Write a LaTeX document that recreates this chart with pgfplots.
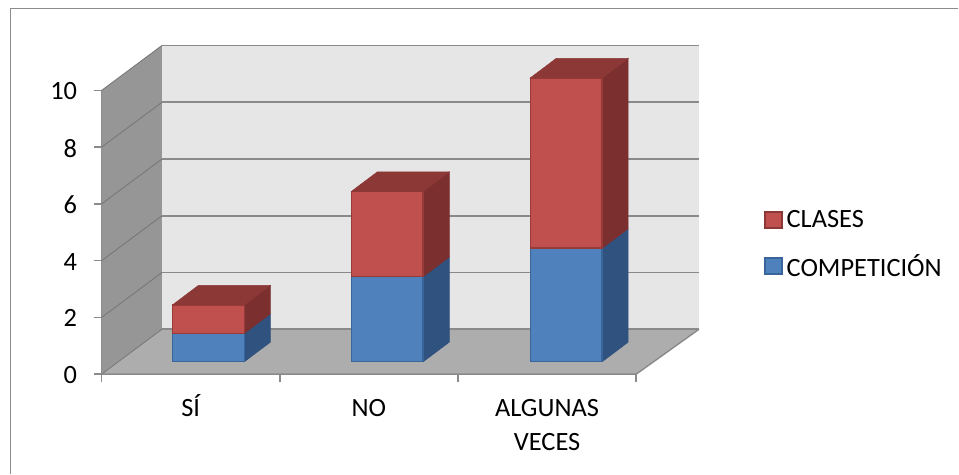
\documentclass[border=0pt]{standalone}
\usepackage{pgfplots}
\pgfplotsset{compat=1.18}
\usepackage{fontspec}
\setmainfont{Carlito}
\definecolor{wallback}{HTML}{E6E6E6}
\definecolor{wallside}{HTML}{969696}
\definecolor{floorc}{HTML}{ADADAD}
\definecolor{gridc}{HTML}{8A8A8A}
\definecolor{framec}{HTML}{8C8C8C}
\definecolor{bluefront}{HTML}{4F81BD}
\definecolor{blueedge}{HTML}{3A659B}
\definecolor{blueside}{HTML}{30527F}
\definecolor{redfront}{HTML}{C0504D}
\definecolor{rededge}{HTML}{983A38}
\definecolor{redside}{HTML}{7B2F2E}
\definecolor{redtop}{HTML}{8C3836}

% Depth of the chart box and of a column, in axis units
\def\wallx{0.339}
\def\wally{1.585}
\def\depthx{0.146}
\def\depthy{0.69}
\def\barbase{0.44}
\def\barw{0.403}

% Gridline running along the side wall and across the back wall
\newcommand\gridline[1]{%
  \pgfmathsetmacro\gy{#1+\wally}%
  \addplot[draw=gridc!85!black, line width=0.8bp, forget plot] coordinates {(0,#1) (\wallx,\gy)};
  \addplot[draw=gridc, line width=1.8bp, forget plot] coordinates {(\wallx,\gy) (3.353,\gy)};
}

% One stacked segment: left edge, lower value, upper value, colours
\newcommand\barseg[6]{%
  \pgfmathsetmacro\xa{#1}%
  \pgfmathsetmacro\xb{#1+\barw}%
  \pgfmathsetmacro\xc{#1+\depthx}%
  \pgfmathsetmacro\xd{#1+\barw+\depthx}%
  \pgfmathsetmacro\ya{#2+\barbase}%
  \pgfmathsetmacro\yb{#3+\barbase}%
  \pgfmathsetmacro\yc{#2+\barbase+\depthy}%
  \pgfmathsetmacro\yd{#3+\barbase+\depthy}%
  \addplot[fill=#6, draw=#6, line width=0.6bp, forget plot] coordinates {(\xb,\ya) (\xd,\yc) (\xd,\yd) (\xb,\yb)} --cycle;
  \addplot[fill=#4, draw=#5, line width=1.6bp, forget plot] coordinates {(\xa,\ya) (\xb,\ya) (\xb,\yb) (\xa,\yb)} --cycle;
}
% Lid of a column
\newcommand\barlid[3]{%
  \pgfmathsetmacro\xa{#1}%
  \pgfmathsetmacro\xb{#1+\barw}%
  \pgfmathsetmacro\xc{#1+\depthx}%
  \pgfmathsetmacro\xd{#1+\barw+\depthx}%
  \pgfmathsetmacro\yb{#2+\barbase}%
  \pgfmathsetmacro\yd{#2+\barbase+\depthy}%
  \addplot[fill=#3, draw=#3, line width=0.6bp, forget plot] coordinates {(\xa,\yb) (\xb,\yb) (\xd,\yd) (\xc,\yd)} --cycle;
}

\begin{document}
\begin{tikzpicture}[x=1bp,y=1bp]
% page extent and outer chart border (origin is the front lower corner of the box)
\path (-101.7,-99.5) rectangle (857.3,374.5);
\draw[framec, line width=1.6bp] (-91,-99.5) -- (-91,366) -- (857.3,366);
\begin{axis}[
  at={(0,0)}, anchor=origin,
  scale only axis,
  width=535bp, height=284bp,
  xmin=0, xmax=3, ymin=0, ymax=10,
  clip=false,
  axis x line*=bottom, axis y line*=left,
  axis line style={draw=gridc, line width=1.4bp, -},
  tick align=outside,
  tick style={draw=gridc, line width=1.4bp},
  major tick length=8bp,
  xtick={0.5,1.5,2.5},
  xticklabels={S\'I,\vphantom{\'I}NO,{\vphantom{\'I}ALGUNAS\\VECES}},
  minor xtick={0,1,2,3},
  x tick style={draw=none},
  minor x tick style={draw=gridc, line width=1.4bp},
  minor tick length=8bp,
  ytick={0,2,4,6,8,10},
  /pgf/number format/assume math mode=true,
  tick label style={font=\fontsize{26.5}{34}\selectfont},
  x tick label style={align=center, yshift=-9bp},
  y tick label style={xshift=-13bp, yshift=-1bp},
  legend style={at={(663bp,168bp)}, anchor=north west, draw=none, fill=none,
    font=\fontsize{26.5}{28}\selectfont,
    /tikz/every even column/.append style={column sep=0pt},
    row sep=17bp, inner sep=0pt, nodes={inner sep=4bp}},
  legend cell align=left,
  legend image code/.code={\draw[#1] (0bp,-8bp) rectangle (17bp,8bp);},
]
% box: side wall, back wall, floor
\addplot[fill=wallside, draw=none, forget plot] coordinates {(0,0) (0.339,1.585) (0.339,11.585) (0,10)} --cycle;
\addplot[fill=wallback, draw=none, forget plot] coordinates {(0.339,1.585) (3.353,1.585) (3.353,11.585) (0.339,11.585)} --cycle;
\addplot[fill=floorc, draw=none, forget plot] coordinates {(0,0) (3,0) (3.353,1.585) (0.339,1.585)} --cycle;
\gridline{0}
\gridline{2}
\gridline{4}
\gridline{6}
\gridline{8}
\gridline{10}
\addplot[draw=gridc, line width=1.4bp, forget plot] coordinates {(0,0) (3,0) (3.353,1.585)};
% columns: COMPETICIÓN below, CLASES above
\barseg{0.398}{0}{1}{bluefront}{blueedge}{blueside}
\barseg{0.398}{1}{2}{redfront}{rededge}{redside}
\barlid{0.398}{2}{redtop}
\barseg{1.402}{0}{3}{bluefront}{blueedge}{blueside}
\barseg{1.402}{3}{6}{redfront}{rededge}{redside}
\barlid{1.402}{6}{redtop}
\barseg{2.406}{0}{4}{bluefront}{blueedge}{blueside}
\barseg{2.406}{4}{10}{redfront}{rededge}{redside}
\barlid{2.406}{10}{redtop}
\addlegendimage{fill=redfront, draw=redtop, line width=1.4bp}
\addlegendentry{CLASES}
\addlegendimage{fill=bluefront, draw=blueedge, line width=1.4bp}
\addlegendentry{COMPETICIÓN}
\end{axis}
\end{tikzpicture}
\end{document}
